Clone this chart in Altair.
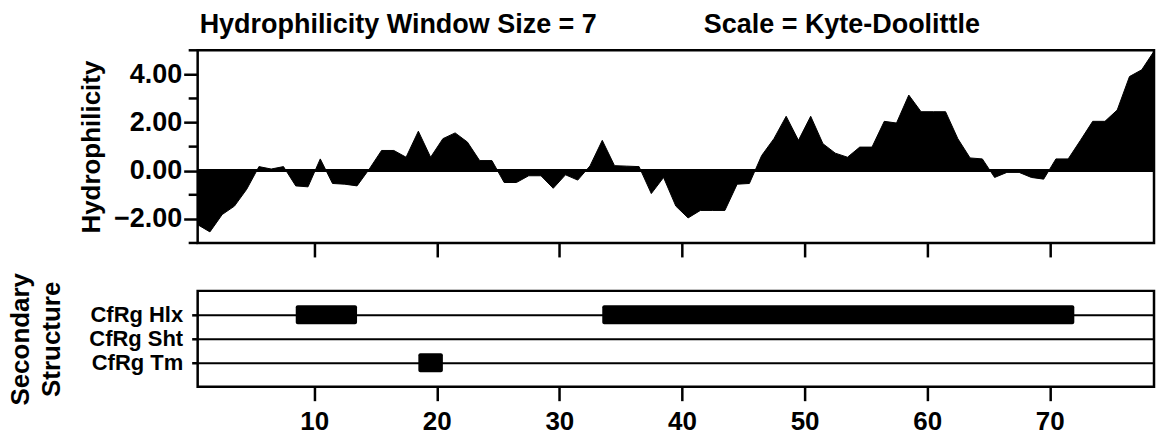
import altair as alt
import pandas as pd

# ---------------- data ----------------
residues = list(range(1, 80))
hydro = [-2.24, -2.54, -1.82, -1.47, -0.77, 0.17, 0.07, 0.17, -0.63, -0.67,
         0.49, -0.53, -0.56, -0.63, 0.07, 0.84, 0.84, 0.56, 1.64, 0.56,
         1.33, 1.57, 1.19, 0.42, 0.42, -0.49, -0.49, -0.21, -0.21, -0.73,
         -0.17, -0.39, 0.20, 1.26, 0.21, 0.19, 0.17, -0.95, -0.28, -1.47,
         -1.96, -1.65, -1.65, -1.65, -0.56, -0.53, 0.63, 1.33, 2.26, 1.26,
         2.26, 1.12, 0.73, 0.56, 0.98, 0.98, 2.05, 1.98, 3.14, 2.45,
         2.45, 2.45, 1.33, 0.53, 0.49, -0.28, -0.07, -0.07, -0.28, -0.35,
         0.49, 0.49, 1.26, 2.05, 2.05, 2.52, 3.91, 4.19, 4.96]

struct_rows = ["CfRg Hlx", "CfRg Sht", "CfRg Tm"]
seg_row = ["CfRg Hlx", "CfRg Hlx", "CfRg Tm"]
seg_start = [8.5, 33.5, 18.5]
seg_end = [13.5, 72.0, 20.5]

x_ticks = [10, 20, 30, 40, 50, 60, 70]
y_major = [-2, 0, 2, 4]
y_minor = [-3, -1, 1, 3, 5]

title_left = "Hydrophilicity Window Size = 7"
title_right = "Scale = Kyte-Doolittle"

FONT = "Liberation Sans"

prof = pd.DataFrame({"residue": residues, "value": hydro})
segs = pd.DataFrame({"row": seg_row, "start": seg_start, "end": seg_end})
minor = pd.DataFrame({"value": y_minor})

xscale = alt.Scale(domain=[0.5, 78.5], nice=False, zero=False)
yscale = alt.Scale(domain=[-3, 5], nice=False, zero=False)

# ---------------- top panel ----------------
top_x = alt.X("pos:Q", scale=xscale,
              axis=alt.Axis(values=x_ticks, labels=False, title=None, domain=False,
                            grid=False, ticks=True, tickSize=14, tickWidth=2.5,
                            tickColor="black"))
top_y = alt.Y("value:Q", scale=yscale,
              axis=alt.Axis(values=y_major, format=".2f", title="Hydrophilicity",
                            domain=False, grid=False,
                            tickSize=14, tickWidth=2.5, tickColor="black",
                            labelFont=FONT, labelFontSize=27, labelFontWeight="bold",
                            labelColor="black", labelPadding=2,
                            titleFont=FONT, titleFontSize=26, titleFontWeight="bold",
                            titleColor="black", titlePadding=9))

area = alt.Chart(prof).transform_calculate(pos="datum.residue - 0.5").mark_area(
    color="black", interpolate="linear", stroke="black", strokeWidth=1
).encode(x=top_x, y=top_y, y2=alt.datum(0))

zero = alt.Chart(prof).mark_rule(color="black", strokeWidth=2).encode(y=alt.datum(0))

minor_ticks = alt.Chart(minor).mark_rule(color="black", strokeWidth=2.5).encode(
    y=alt.Y("value:Q", scale=yscale), x=alt.value(-9), x2=alt.value(0))

t1 = alt.Chart(pd.DataFrame({"t": [title_left]})).mark_text(
    align="left", baseline="alphabetic", font=FONT, fontSize=27, fontWeight="bold",
    color="black").encode(x=alt.value(2), y=alt.value(-17), text="t:N")
t2 = alt.Chart(pd.DataFrame({"t": [title_right]})).mark_text(
    align="left", baseline="alphabetic", font=FONT, fontSize=27, fontWeight="bold",
    color="black").encode(x=alt.value(507), y=alt.value(-17), text="t:N")

top = alt.layer(area, zero, minor_ticks, t1, t2).properties(width=958, height=193)

# ---------------- bottom panel ----------------
bot_x = alt.X("start:Q", scale=xscale,
              axis=alt.Axis(values=x_ticks, title=None, domain=False, grid=False,
                            tickSize=14, tickWidth=2.5, tickColor="black",
                            labelFont=FONT, labelFontSize=26, labelFontWeight="bold",
                            labelColor="black", labelPadding=8))
bot_y = alt.Y("row:N", sort=struct_rows,
              scale=alt.Scale(domain=struct_rows, paddingInner=0.208, paddingOuter=0.604),
              axis=alt.Axis(title=["Secondary", "Structure"], domain=False,
                            grid=True, gridColor="black", gridWidth=2, gridOpacity=1,
                            bandPosition=0.5,
                            tickSize=6, tickWidth=2.5, tickColor="black",
                            labelFont=FONT, labelFontSize=22, labelFontWeight="bold",
                            labelColor="black", labelPadding=9,
                            titleFont=FONT, titleFontSize=26, titleFontWeight="bold",
                            titleColor="black", titlePadding=24, titleLineHeight=31))

bars = alt.Chart(segs).mark_bar(color="black", cornerRadius=2).encode(
    x=bot_x, x2="end:Q", y=bot_y)

bottom = bars.properties(width=958, height=96)

chart = alt.vconcat(top, bottom, spacing=48, bounds="flush").configure_view(
    stroke="black", strokeWidth=2.5
).properties(
    padding={"left": 6, "top": 9, "right": 0, "bottom": 0},
    background="white"
)

chart.save("out.html", embed_options={"renderer": "svg", "actions": False})
